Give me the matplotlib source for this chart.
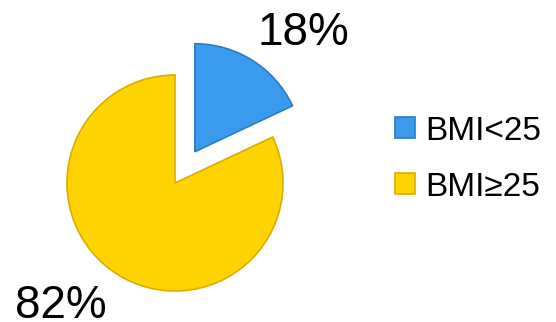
import matplotlib.pyplot as plt

# BMI share of the group
categories = ["BMI<25", "BMI\u226525"]
shares = [18, 82]
colors = ["#3A9BEE", "#FFD300"]
edges = ["#2C7CC4", "#D9AE00"]

plt.rcParams['font.family'] = ['Liberation Sans', 'DejaVu Sans']

fig = plt.figure(figsize=(5.56, 3.22), dpi=100)
ax = fig.add_axes([0, 0, 1, 1])

# pixel-like data units, y up
wedges, _ = ax.pie(shares, colors=colors, startangle=90, counterclock=False,
                   center=(175, 139), radius=108, explode=[37, 0],
                   wedgeprops=dict(linewidth=1.2), frame=True)
for w, ec in zip(wedges, edges):
    w.set_edgecolor(ec)
ax.set_xlim(0, 556)
ax.set_ylim(0, 322)
ax.set_aspect('equal')
ax.axis('off')

# percentage labels
ax.text(303, 277, f"{shares[0]}%", fontsize=33, ha='center', va='baseline')
ax.text(61, 4, f"{shares[1]}%", fontsize=33, ha='center', va='baseline')

ax.legend(wedges, categories, loc='center left', bbox_to_anchor=(395 / 556, 163 / 322),
          frameon=False, fontsize=24, handlelength=0.6, handleheight=0.6,
          handletextpad=0.3, labelspacing=0.75, borderpad=0, borderaxespad=0)

plt.savefig("out.png", dpi=100)
